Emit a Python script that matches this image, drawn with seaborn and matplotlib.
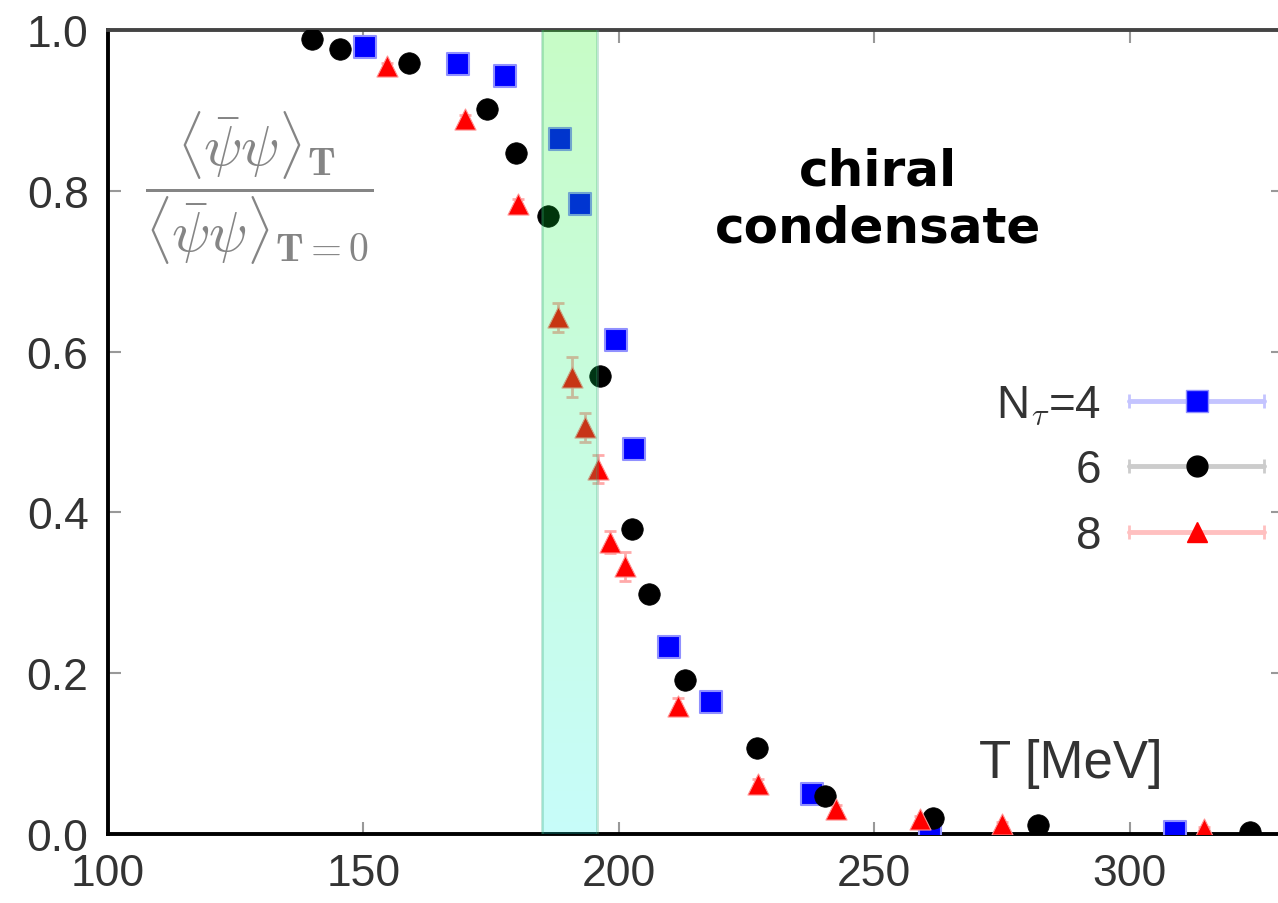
import numpy as np
import seaborn as sns
import matplotlib.pyplot as plt
from matplotlib.lines import Line2D
from matplotlib.legend_handler import HandlerTuple, HandlerLine2D

# N_tau = 4 (blue squares)
t4 = [150.3, 168.5, 177.7, 188.5, 192.4, 199.4, 202.9, 209.8, 218.0, 237.8, 260.9, 308.8]
c4 = [0.979, 0.958, 0.943, 0.864, 0.784, 0.614, 0.479, 0.233, 0.164, 0.050, 0.007, 0.002]

# N_tau = 6 (black circles)
t6 = [139.9, 145.4, 158.9, 174.2, 179.8, 186.1, 196.3, 202.5, 205.9, 212.9, 227.0, 240.3, 261.4, 282.0, 323.5]
c6 = [0.989, 0.976, 0.959, 0.902, 0.847, 0.769, 0.570, 0.379, 0.299, 0.192, 0.107, 0.047, 0.020, 0.011, 0.002]

# N_tau = 8 (red triangles)
t8 = [154.6, 169.9, 180.2, 188.1, 190.8, 193.3, 195.9, 198.2, 201.2, 211.5, 227.2, 242.5, 258.9, 275.0, 314.5]
c8 = [0.955, 0.889, 0.784, 0.643, 0.568, 0.506, 0.454, 0.363, 0.333, 0.159, 0.062, 0.031, 0.019, 0.012, 0.006]
e8 = [0.004, 0.005, 0.006, 0.018, 0.025, 0.018, 0.018, 0.014, 0.018, 0.010, 0.006, 0.005, 0.004, 0.003, 0.003]

# transition band
tc_lo, tc_hi = 185.0, 195.7

sns.set_theme(style='ticks')
plt.rcParams['font.family'] = ['Liberation Sans', 'DejaVu Sans']
plt.rcParams['mathtext.fontset'] = 'cm'

fig = plt.figure(figsize=(12.78, 9.04), dpi=100)
ax = fig.add_axes([108 / 1278, 1 - 835 / 904, 1175 / 1278, 804 / 904])

sns.scatterplot(x=t4, y=c4, marker='s', color='#0000ff', s=270,
                edgecolor='#9090ff', linewidth=1.5, ax=ax, zorder=4)
sns.scatterplot(x=t6, y=c6, marker='o', color='black', s=240,
                edgecolor='black', linewidth=0.5, ax=ax, zorder=4)
ax.errorbar(t8, c8, yerr=e8, fmt='none', ecolor='#ffaaaa', elinewidth=2,
            capsize=4, capthick=2, zorder=3)
sns.scatterplot(x=t8, y=c8, marker='^', color='#ff0000', s=230,
                edgecolor='#ff9090', linewidth=0.8, ax=ax, zorder=4)

# green -> cyan band drawn on top of the points
n = 64
grad = np.zeros((n, 1, 4))
top = np.array([0.0, 0.95, 0.0])
bot = np.array([0.0, 0.96, 0.9])
for i in range(n):
    f = i / (n - 1)
    grad[i, 0, :3] = top * (1 - f) + bot * f
    grad[i, 0, 3] = 0.22
ax.imshow(grad, extent=[tc_lo, tc_hi, 0, 1], aspect='auto', origin='upper',
          interpolation='bilinear', zorder=6)
for xv in (tc_lo, tc_hi):
    ax.axvline(xv, color='#3aa878', alpha=0.3, lw=2, zorder=6)

ax.set_xlim(100, 330)
ax.set_ylim(0, 1)
ax.set_xticks([100, 150, 200, 250, 300])
ax.set_yticks([0.0, 0.2, 0.4, 0.6, 0.8, 1.0])
ax.set_yticklabels(['0.0', '0.2', '0.4', '0.6', '0.8', '1.0'])
ax.tick_params(direction='in', length=9, width=1.5, color='#999999',
               labelsize=32, labelcolor='#333333', pad=14,
               top=True, right=True)
for sp in ax.spines.values():
    sp.set_linewidth(2.8)
    sp.set_color('black')
ax.spines['top'].set_color('#444444')
ax.set_xlabel('')
ax.set_ylabel('')

ax.text(0.129, 0.805,
        r'$\dfrac{\langle\bar{\psi}\psi\rangle_{\mathbf{T}}}{\langle\bar{\psi}\psi\rangle_{\mathbf{T=0}}}$',
        transform=ax.transAxes, ha='center', va='center', fontsize=41,
        color='#858585')
ax.text(0.655, 0.79, 'chiral\ncondensate', transform=ax.transAxes,
        ha='center', va='center', fontsize=36, fontweight='bold',
        family=['DejaVu Sans'], linespacing=1.25, color='black')
ax.text(0.819, 0.088, 'T [MeV]', transform=ax.transAxes, ha='center',
        va='center', fontsize=38, color='#333333')

# legend: label on the left, error-bar style key on the right
bar4 = Line2D([], [], color='#c4c4ff', lw=3.5, marker='|', ms=10, mew=2)
bar6 = Line2D([], [], color='#cccccc', lw=3.5, marker='|', ms=10, mew=2)
bar8 = Line2D([], [], color='#ffc0c0', lw=3.5, marker='|', ms=10, mew=2)
m4 = Line2D([], [], ls='none', marker='s', color='#0000ff', ms=16, mec='#9090ff')
m6 = Line2D([], [], ls='none', marker='o', color='black', ms=15)
m8 = Line2D([], [], ls='none', marker='^', color='#ff0000', ms=15)
hmap = {m: HandlerLine2D(numpoints=1) for m in (m4, m6, m8)}
hmap.update({b: HandlerLine2D(numpoints=2, marker_pad=0) for b in (bar4, bar6, bar8)})
hmap[tuple] = HandlerTuple(ndivide=1)
ax.legend([(bar4, m4), (bar6, m6), (bar8, m8)],
          [r'N$_\tau$=4', '6', '8'], handler_map=hmap,
          markerfirst=False, frameon=False, fontsize=33,
          handlelength=2.95, handletextpad=0.6, labelspacing=0.47,
          borderpad=0, borderaxespad=0,
          loc='upper right', bbox_to_anchor=(0.984, 0.561),
          labelcolor='#333333')

fig.savefig('out.png', dpi=100)
